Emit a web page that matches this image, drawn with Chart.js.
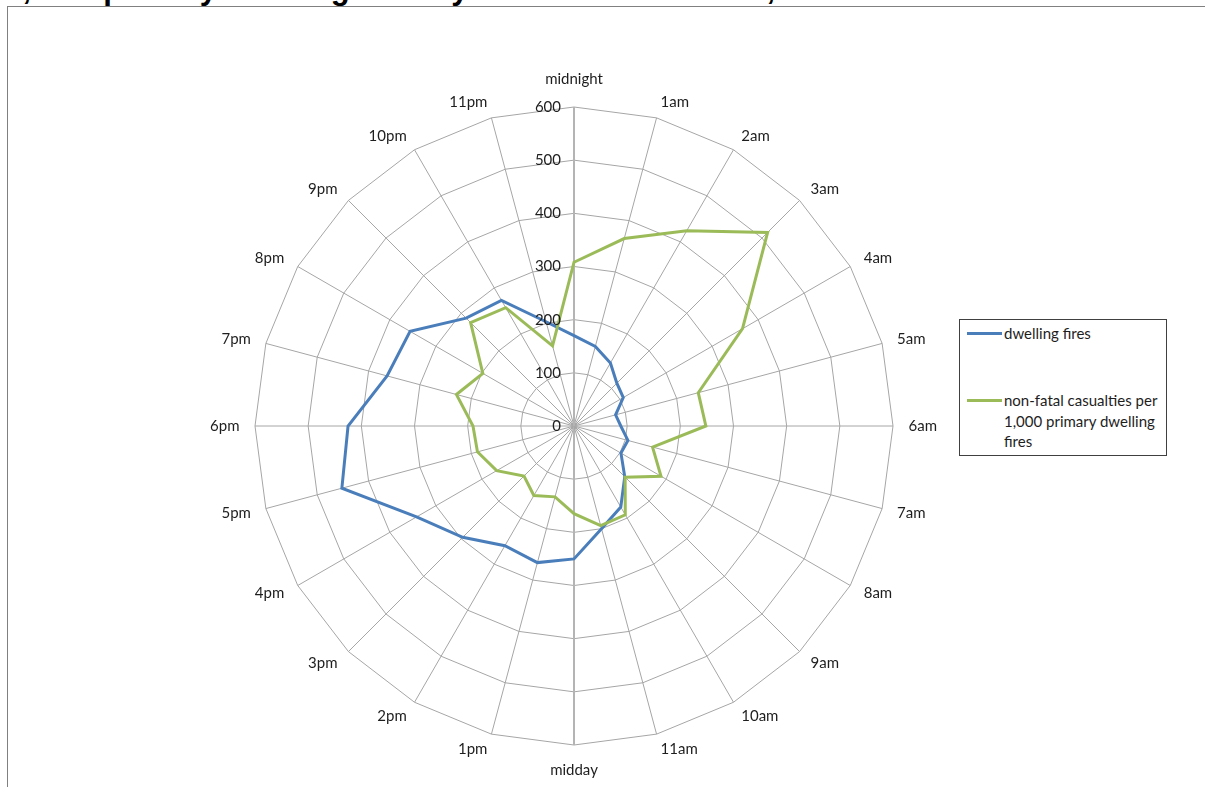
<!DOCTYPE html>
<html lang="en">
<head>
  <meta charset="UTF-8">
  <title>Dwelling fires by hour</title>
  <style>
    body { margin: 0; background: #fff; font-family: Lato, "Liberation Sans", sans-serif; }
    #wrap { position: relative; width: 1205px; height: 787px; overflow: hidden; }
    #frame { position: absolute; left: 7px; top: 6px; width: 1300px; height: 900px;
             border-left: 1px solid #808080; border-top: 1px solid #808080; }
    .ttl { position: absolute; top: -27px; font: bold 31px "Liberation Sans", Arial, sans-serif;
           line-height: 31px; white-space: nowrap; color: #000; }
    #ttlA { right: 1174px; }
    #ttlB { left: 31px; }
    #chart { position: absolute; left: 0; top: 0; }
    #legend { position: absolute; left: 959px; top: 319px; width: 206px; height: 135px;
              border: 1px solid #404040; background: #fff; font-size: 15px; color: #1e1e1e; }
    .item { position: absolute; left: 7px; display: flex; align-items: flex-start; }
    .swatch { width: 35px; height: 3px; margin-top: 9px; flex: none; }
    .lab { margin-left: 2px; line-height: 20.5px; }
  </style>
  <script src="https://cdn.jsdelivr.net/npm/chart.js"></script>
</head>
<body>
  <div id="wrap">
    <div id="frame"></div>
    <div class="ttl" id="ttlA">Non-fatal casualty rate per 1,000 fires,</div>
    <div class="ttl" id="ttlB">&nbsp;and primary dwelling fires by hour of the incident, 2011-12</div>
    <canvas id="chart" width="1205" height="787"></canvas>
    <div id="legend">
      <div class="item" style="top: 3px;"><div class="swatch" style="background:#4a7ebb"></div><div class="lab">dwelling fires</div></div>
      <div class="item" style="top: 70px;"><div class="swatch" style="background:#9bbb59"></div><div class="lab">non-fatal casualties per<br>1,000 primary dwelling<br>fires</div></div>
    </div>
  </div>

  <script>
    const hours = ["midnight", "1am", "2am", "3am", "4am", "5am", "6am", "7am", "8am", "9am", "10am", "11am",
                   "midday", "1pm", "2pm", "3pm", "4pm", "5pm", "6pm", "7pm", "8pm", "9pm", "10pm", "11pm"];

    const dwellingFires = [170, 155, 137, 114, 107, 81, 88, 105, 102, 135, 176, 200,
                           250, 266, 260, 296, 342, 452, 425, 364, 356, 287, 273, 203];

    const casualtiesPer1000 = [308, 365, 424, 515, 366, 242, 248, 153, 189, 136, 193, 194,
                               165, 138, 151, 133, 168, 188, 190, 229, 198, 275, 257, 156];

    const tickValues = [0, 100, 200, 300, 400, 500, 600];

    // draws hour labels and value labels the way the original spreadsheet placed them
    const labelPlugin = {
      id: 'labelPlugin',
      afterDraw(chart) {
        const s = chart.scales.r;
        const ctx = chart.ctx;
        ctx.save();
        ctx.font = '15px Lato';
        ctx.fillStyle = '#1e1e1e';
        ctx.textBaseline = 'middle';

        hours.forEach((lab, i) => {
          const end = s.getPointPosition(i, s.drawingArea);
          const a = s.getIndexAngle(i);
          const sin = Math.sin(a), cos = Math.cos(a);
          if (i === 0) {
            ctx.textAlign = 'center';
            ctx.fillText(lab, end.x, end.y - 28);
          } else if (i === 12) {
            ctx.textAlign = 'center';
            ctx.fillText(lab, end.x, end.y + 25);
          } else {
            ctx.textAlign = sin > 0 ? 'left' : 'right';
            ctx.fillText(lab, end.x + 15.5 * sin, end.y - 16 * cos);
          }
        });

        ctx.textAlign = 'right';
        tickValues.forEach(v => {
          const d = s.getDistanceFromCenterForValue(v);
          ctx.fillText(String(v), s.xCenter - 13, s.yCenter - d);
        });
        ctx.restore();
      }
    };

    new Chart(document.getElementById('chart'), {
      type: 'radar',
      data: {
        labels: hours,
        datasets: [
          {
            label: 'dwelling fires',
            data: dwellingFires,
            borderColor: '#4a7ebb',
            borderWidth: 3,
            pointRadius: 0,
            fill: false,
            order: 1
          },
          {
            label: 'non-fatal casualties per 1,000 primary dwelling fires',
            data: casualtiesPer1000,
            borderColor: '#9bbb59',
            borderWidth: 3,
            pointRadius: 0,
            fill: false,
            order: 0
          }
        ]
      },
      options: {
        responsive: false,
        devicePixelRatio: 1,
        animation: false,
        layout: { padding: { left: 0, right: 56, top: 107, bottom: 42 } },
        plugins: { legend: { display: false }, tooltip: { enabled: false } },
        scales: {
          r: {
            min: 0,
            max: 600,
            ticks: { stepSize: 100, display: false },
            pointLabels: { display: false },
            grid: { color: '#a6a6a6', lineWidth: 1 },
            angleLines: {
              color: ctx => (ctx.index % 12 === 0 ? '#b4b4b4' : '#a6a6a6'),
              lineWidth: ctx => (ctx.index % 12 === 0 ? 2 : 1)
            }
          }
        }
      },
      plugins: [labelPlugin]
    });
  </script>
</body>
</html>
